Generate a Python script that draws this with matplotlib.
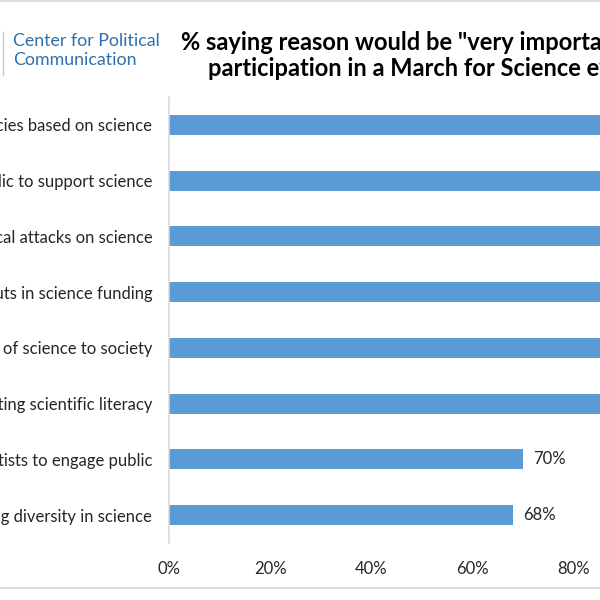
import matplotlib
matplotlib.use("Agg")
import matplotlib.pyplot as plt
from matplotlib.ticker import FuncFormatter

categories = [
    "Encouraging public policies based on science",
    "Encouraging the public to support science",
    "Opposing political attacks on science",
    "Opposing cuts in science funding",
    "Celebrating the value of science to society",
    "Promoting scientific literacy",
    "Encouraging scientists to engage public",
    "Promoting diversity in science",
]
values = [93, 91, 89, 88, 87, 86, 70, 68]
xticks = [0, 20, 40, 60, 80, 100]

plt.rcParams['font.family'] = ['Lato', 'DejaVu Sans']

fig = plt.figure(figsize=(6, 6), dpi=100)
ax = fig.add_axes([169/600, 1-543/600, 506/600, 446/600])

ypos = list(range(len(categories)))
ax.barh(ypos, values, height=0.36, color='#5b9bd5', zorder=2)
ax.set_ylim(len(categories)-0.5, -0.5)
ax.set_xlim(0, 100)
ax.set_yticks(ypos)
ax.set_yticklabels(categories, fontsize=12, color='#262626')
ax.set_xticks(xticks)
ax.xaxis.set_major_formatter(FuncFormatter(lambda v, p: f"{int(v)}%"))
ax.tick_params(axis='x', labelsize=12, colors='#262626', length=0, pad=13)
ax.tick_params(axis='y', length=0, pad=12)
for s in ['top', 'right', 'bottom']:
    ax.spines[s].set_visible(False)
ax.spines['left'].set_color('#d9d9d9')
ax.spines['left'].set_linewidth(1.2)

for y, v in zip(ypos, values):
    ax.text(v + 2, y, f"{v}%", va='center', ha='left', fontsize=12, color='#262626')

fig.text(13/600, 1-41/600, "Center for Political", fontsize=12.8, color='#2e70ae',
         va='center', ha='left', family='Lato')
fig.text(13/600, 1-60/600, "Communication", fontsize=12.8, color='#2e70ae',
         va='center', ha='left', family='Lato')
fig.add_artist(plt.Line2D([3/600, 3/600], [1-32/600, 1-75/600], color='#c8c8c8', lw=1, transform=fig.transFigure))

fig.text(181/600, 1-42/600, '% saying reason would be "very important" in their', fontsize=17.0,
         fontweight='bold', color='black', va='center', ha='left')
fig.text(208/600, 1-68/600, 'participation in a March for Science event', fontsize=17.0,
         fontweight='bold', color='black', va='center', ha='left')

fig.add_artist(plt.Line2D([0, 1], [1-1/600, 1-1/600], color='#dddddd', lw=1.5, transform=fig.transFigure))
fig.add_artist(plt.Line2D([0, 1], [1-588/600, 1-588/600], color='#dddddd', lw=1.5, transform=fig.transFigure))

fig.savefig("out.png", dpi=100)
